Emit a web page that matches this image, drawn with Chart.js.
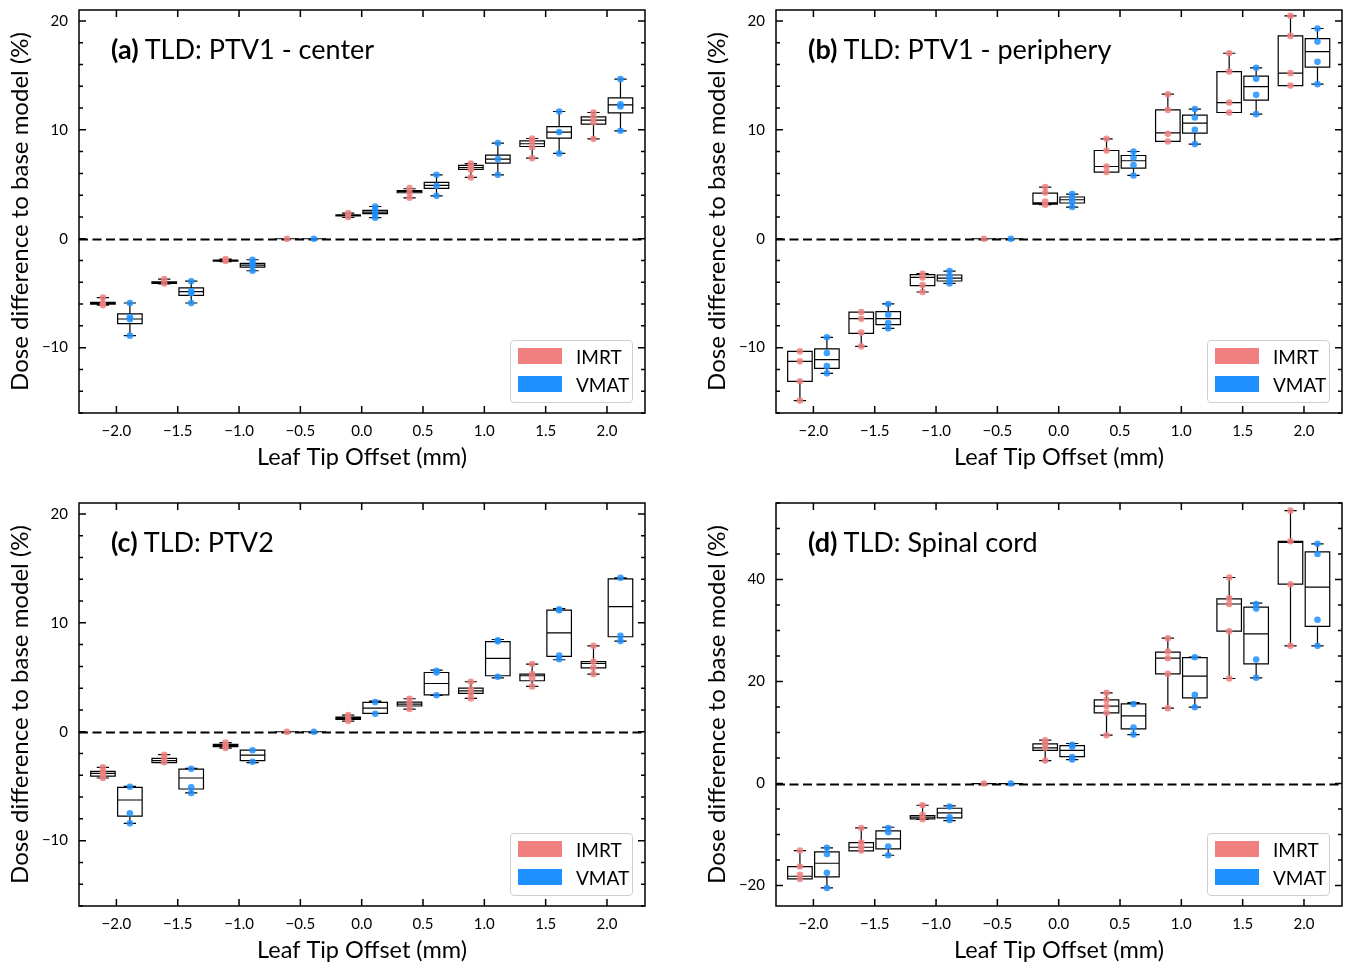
<!DOCTYPE html>
<html>
<head>
<meta charset="utf-8">
<script src="https://cdn.jsdelivr.net/npm/chart.js@4.4.1/dist/chart.umd.min.js"></script>
<style>
  body { margin: 0; background: #fff; font-family: Lato, sans-serif; }
  .panel { position: absolute; width: 674px; height: 482px; }
  .panel canvas { position: absolute; left: 0; top: 0; }
  .tag { position: absolute; left: 111px; top: 35px; font-size: 27px; line-height: 1; color: #000; white-space: nowrap; }
  .tag b { font-weight: 700; }
  .legend { position: absolute; left: 510px; top: 340px; width: 121px; height: 61px;
            border: 1.5px solid #d0d0d0; border-radius: 4px; background: rgba(255,255,255,0.85); }
  .legend .sw { position: absolute; left: 7px; width: 44px; height: 16px; }
  .legend .lb { position: absolute; left: 65px; font-size: 19px; line-height: 1; color: #000; }
</style>
</head>
<body>
<script>
// leaf tip offsets (mm) and x tick labels
const offsets = [-2.0, -1.5, -1.0, -0.5, 0.0, 0.5, 1.0, 1.5, 2.0];
const xTicks = [-2.0, -1.5, -1.0, -0.5, 0.0, 0.5, 1.0, 1.5, 2.0];
const yTicksPtv = [-10, 0, 10, 20];
const yTicksCord = [-20, 0, 20, 40];

// box stats per offset: [low whisker, q1, median, q3, high whisker]
// (a) PTV1 - center
const aImrtBox = [[-6.1, -6.0, -5.9, -5.85, -5.4], [-4.15, -4.1, -4.05, -3.95, -3.7], [-2.1, -2.05, -2.0, -1.97, -1.87],
  [0, 0, 0, 0, 0], [1.95, 2.1, 2.15, 2.2, 2.35], [3.76, 4.22, 4.34, 4.43, 4.59], [5.63, 6.36, 6.54, 6.73, 6.9],
  [7.4, 8.47, 8.72, 8.99, 9.2], [9.17, 10.52, 10.89, 11.19, 11.59]];
const aImrtPts = [[-5.4, -5.9, -6.1], [-3.7, -4.1], [-1.87, -2.05], [0], [2.35, 1.99], [4.65, 4.25, 3.76],
  [6.91, 6.57, 6.33, 5.63], [9.2, 8.93, 8.41, 7.4], [11.59, 11.16, 10.7, 9.17]];
const aVmatBox = [[-8.9, -7.8, -7.37, -6.9, -5.9], [-5.9, -5.2, -4.86, -4.52, -3.9], [-2.94, -2.6, -2.42, -2.26, -1.93],
  [0, 0, 0, 0, 0], [1.93, 2.3, 2.45, 2.6, 2.96], [3.94, 4.62, 4.89, 5.17, 5.87], [5.87, 6.94, 7.31, 7.68, 8.78],
  [7.83, 9.24, 9.79, 10.3, 11.68], [9.91, 11.56, 12.29, 12.94, 14.65]];
const aVmatPts = [[-5.9, -7.2, -7.4, -8.9], [-3.9, -4.8, -5.0, -5.9], [-1.93, -2.23, -2.48, -2.94], [0],
  [2.96, 2.6, 2.29, 1.93], [5.87, 4.86, 3.94], [8.78, 7.31, 5.87], [11.68, 9.79, 7.83], [14.65, 12.35, 12.14, 9.91]];

// (b) PTV1 - periphery
const bImrtBox = [[-14.86, -13.09, -11.26, -10.34, -10.34], [-9.88, -8.69, -7.34, -6.73, -6.73], [-4.89, -4.31, -3.55, -3.3, -3.21],
  [0, 0, 0, 0, 0], [3.12, 3.18, 3.3, 4.19, 4.74], [6.12, 6.12, 6.63, 8.1, 9.17], [8.93, 8.93, 9.72, 11.83, 13.27],
  [11.59, 11.59, 12.5, 15.35, 17.03], [14.06, 14.06, 15.2, 18.62, 20.46]];
const bImrtPts = [[-10.34, -11.26, -13.09, -14.86], [-6.73, -7.34, -8.62, -9.88], [-3.21, -3.55, -4.25, -4.89], [0],
  [4.74, 4.25, 3.42, 3.12], [9.17, 8.1, 6.63, 6.12], [13.27, 11.83, 9.63, 8.93], [17.03, 15.35, 12.5, 11.59],
  [20.46, 18.62, 15.2, 14.06]];
const bVmatBox = [[-12.36, -11.9, -11.1, -10.12, -9.05], [-8.23, -7.89, -7.34, -6.7, -5.99], [-4.1, -3.88, -3.61, -3.33, -2.97],
  [0, 0, 0, 0, 0], [2.91, 3.28, 3.58, 3.83, 4.1], [5.81, 6.48, 7.16, 7.64, 8.01], [8.69, 9.69, 10.61, 11.34, 11.9],
  [11.44, 12.72, 13.97, 14.93, 15.69], [14.19, 15.75, 17.18, 18.38, 19.3]];
const bVmatPts = [[-9.05, -10.49, -11.7, -12.36], [-5.99, -6.97, -7.74, -8.23], [-2.97, -3.45, -3.76, -4.1], [0],
  [4.1, 3.73, 3.42, 2.91], [8.01, 7.46, 6.76, 5.81], [11.9, 11.13, 10.0, 8.69], [15.69, 14.68, 13.21, 11.44],
  [19.3, 18.1, 16.24, 14.19]];

// (c) PTV2
const cImrtBox = [[-4.25, -4.07, -3.82, -3.64, -3.27], [-2.85, -2.84, -2.66, -2.45, -2.11], [-1.5, -1.38, -1.28, -1.16, -1.0],
  [0, 0, 0, 0, 0], [0.98, 1.13, 1.22, 1.35, 1.53], [2.08, 2.36, 2.54, 2.72, 3.03], [3.06, 3.52, 3.76, 4.01, 4.59],
  [4.16, 4.68, 5.14, 5.29, 6.21], [5.29, 5.87, 6.27, 6.45, 7.89]];
const cImrtPts = [[-3.27, -3.64, -3.9, -4.25], [-2.11, -2.45, -2.8], [-1.0, -1.28, -1.5], [0], [1.53, 1.22, 0.98],
  [3.03, 2.6, 2.08], [4.59, 3.9, 3.52, 3.06], [6.21, 5.29, 4.9, 4.16], [7.89, 6.45, 5.9, 5.29]];
const cVmatBox = [[-8.41, -7.74, -6.27, -5.11, -5.02], [-5.62, -5.26, -4.25, -3.43, -3.36], [-2.84, -2.66, -2.14, -1.68, -1.68],
  [0, 0, 0, 0, 0], [1.68, 1.68, 2.17, 2.69, 2.81], [3.33, 3.39, 4.43, 5.44, 5.66], [4.95, 5.14, 6.73, 8.28, 8.47],
  [6.61, 6.91, 9.08, 11.17, 11.31], [8.32, 8.72, 11.49, 14.04, 14.13]];
const cVmatPts = [[-5.05, -7.5, -8.41], [-3.4, -5.1, -5.62], [-1.7, -2.75], [0], [2.72, 1.65], [5.6, 5.44, 3.35],
  [8.4, 8.3, 5.05], [11.25, 11.15, 7.0, 6.65], [14.13, 8.8, 8.32]];

// (d) Spinal cord
const dImrtBox = [[-18.7, -18.7, -18.17, -16.27, -13.14], [-13.2, -13.2, -12.48, -11.57, -8.7], [-7.0, -6.93, -6.6, -6.27, -4.25],
  [0, 0, 0, 0, 0], [4.5, 6.5, 7.0, 7.8, 8.5], [9.48, 13.86, 15.2, 16.4, 17.78], [14.77, 21.5, 24.58, 25.76, 28.5],
  [20.6, 29.87, 35.2, 36.2, 40.4], [27.0, 39.08, 47.3, 47.5, 53.5]];
const dImrtPts = [[-13.14, -16.27, -17.9, -18.7], [-8.7, -11.57, -12.3, -13.1], [-4.25, -6.1, -7.0], [0],
  [8.5, 7.8, 7.0, 4.5], [17.78, 16.4, 15.2, 13.9, 9.48], [28.5, 25.9, 24.58, 21.5, 14.77],
  [40.4, 36.3, 35.2, 29.87, 20.6], [53.5, 47.5, 39.08, 27.0]];
const dVmatBox = [[-20.46, -18.3, -15.62, -13.4, -12.6], [-14.05, -12.81, -10.85, -9.28, -8.56], [-7.25, -6.73, -5.75, -4.84, -4.38],
  [0, 0, 0, 0, 0], [4.7, 5.3, 6.5, 7.45, 7.85], [9.6, 10.72, 13.27, 15.62, 15.88], [14.97, 16.8, 21.05, 24.7, 24.77],
  [20.73, 23.46, 29.35, 34.6, 35.36], [27.0, 30.8, 38.5, 45.4, 47.0]];
const dVmatPts = [[-12.6, -13.8, -17.5, -20.46], [-8.7, -9.54, -12.35, -14.05], [-4.51, -6.6, -7.12], [0],
  [7.6, 7.2, 5.2, 4.7], [15.6, 11.0, 9.6], [24.77, 17.39, 14.97], [35.2, 34.3, 24.3, 20.73], [47.0, 45.0, 32.1, 27.0]];

const imrtColor = '#f08080';
const vmatColor = '#1e90ff';
const boxWidth = 0.2;
const shift = 0.11;

Chart.defaults.font.family = 'Lato, sans-serif';
Chart.defaults.color = '#000';

const fmt = (v, d) => (v < 0 ? '\u2212' : '') + Math.abs(v).toFixed(d);

// box/whisker drawing, zero line, frame and inward ticks
const boxPlugin = {
  id: 'boxes',
  beforeDatasetsDraw(chart, args, opts) {
    const { ctx, chartArea: area, scales: { x, y } } = chart;
    ctx.save();
    ctx.beginPath();
    ctx.rect(area.left, area.top, area.right - area.left, area.bottom - area.top);
    ctx.clip();
    ctx.strokeStyle = '#000';
    ctx.lineWidth = 1.8;
    ctx.setLineDash([9, 4.5]);
    const y0 = Math.round(y.getPixelForValue(0)) + 0.5;
    ctx.beginPath();
    ctx.moveTo(area.left, y0);
    ctx.lineTo(area.right, y0);
    ctx.stroke();
    ctx.setLineDash([]);
    ctx.lineWidth = 1.2;
    opts.groups.forEach(g => {
      offsets.forEach((pos, i) => {
        const [lo, q1, med, q3, hi] = g.stats[i];
        const c = pos + g.shift;
        const px = v => x.getPixelForValue(v);
        const py = v => y.getPixelForValue(v);
        const xl = px(c - boxWidth / 2), xr = px(c + boxWidth / 2), xc = px(c);
        const cl = px(c - boxWidth / 4), cr = px(c + boxWidth / 4);
        ctx.beginPath();
        ctx.rect(xl, py(q3), xr - xl, py(q1) - py(q3));
        ctx.moveTo(xl, py(med)); ctx.lineTo(xr, py(med));
        ctx.moveTo(xc, py(q1)); ctx.lineTo(xc, py(lo));
        ctx.moveTo(xc, py(q3)); ctx.lineTo(xc, py(hi));
        ctx.moveTo(cl, py(lo)); ctx.lineTo(cr, py(lo));
        ctx.moveTo(cl, py(hi)); ctx.lineTo(cr, py(hi));
        ctx.stroke();
      });
    });
    ctx.restore();
  },
  afterDraw(chart, args, opts) {
    const { ctx, chartArea: area, scales: { x, y } } = chart;
    ctx.save();
    ctx.strokeStyle = '#000';
    ctx.lineWidth = 1.5;
    ctx.beginPath();
    x.ticks.forEach(t => {
      const p = x.getPixelForValue(t.value);
      ctx.moveTo(p, area.bottom); ctx.lineTo(p, area.bottom - 7);
      ctx.moveTo(p, area.top); ctx.lineTo(p, area.top + 7);
    });
    y.ticks.forEach(t => {
      const p = y.getPixelForValue(t.value);
      ctx.moveTo(area.left, p); ctx.lineTo(area.left + 7, p);
      ctx.moveTo(area.right, p); ctx.lineTo(area.right - 7, p);
    });
    const step = opts.minorStep;
    for (let v = Math.ceil(y.min / step) * step; v <= y.max; v += step) {
      const p = y.getPixelForValue(v);
      ctx.moveTo(area.left, p); ctx.lineTo(area.left + 4, p);
      ctx.moveTo(area.right, p); ctx.lineTo(area.right - 4, p);
    }
    ctx.stroke();
    ctx.lineWidth = 1.5;
    ctx.strokeRect(area.left, area.top, area.right - area.left, area.bottom - area.top);
    ctx.restore();
  }
};

const pointsFor = (pts, dx) => offsets.flatMap((pos, i) => pts[i].map(v => ({ x: pos + dx, y: v })));

function makePanel(p) {
  const wrap = document.createElement('div');
  wrap.className = 'panel';
  wrap.style.left = p.left + 'px';
  wrap.style.top = p.top + 'px';
  const canvas = document.createElement('canvas');
  canvas.width = 674;
  canvas.height = 482;
  wrap.appendChild(canvas);

  const tag = document.createElement('div');
  tag.className = 'tag';
  tag.innerHTML = '<b>' + p.letter + '</b> ' + p.title;
  wrap.appendChild(tag);

  const legend = document.createElement('div');
  legend.className = 'legend';
  legend.innerHTML =
    '<div class="sw" style="top:7px;background:' + imrtColor + '"></div><div class="lb" style="top:6px">IMRT</div>' +
    '<div class="sw" style="top:35px;background:' + vmatColor + '"></div><div class="lb" style="top:34px">VMAT</div>';
  wrap.appendChild(legend);
  document.body.appendChild(wrap);

  new Chart(canvas, {
    type: 'scatter',
    data: {
      datasets: [
        { label: 'IMRT', data: pointsFor(p.imrtPts, -shift), backgroundColor: 'rgba(240,128,128,0.85)',
          pointRadius: 3.3, borderWidth: 0 },
        { label: 'VMAT', data: pointsFor(p.vmatPts, shift), backgroundColor: 'rgba(30,144,255,0.85)',
          pointRadius: 3.3, borderWidth: 0 }
      ]
    },
    options: {
      responsive: false,
      animation: false,
      layout: { padding: { top: 10, right: 29, left: 0, bottom: 0 } },
      plugins: {
        legend: { display: false },
        tooltip: { enabled: false },
        boxes: {
          minorStep: p.minorStep,
          groups: [{ stats: p.imrtBox, shift: -shift }, { stats: p.vmatBox, shift: shift }]
        }
      },
      scales: {
        x: {
          type: 'linear', min: -2.305, max: 2.31,
          afterBuildTicks: s => { s.ticks = xTicks.map(v => ({ value: v })); },
          afterFit: s => { s.height = 69; s.paddingLeft = 0; s.paddingRight = 0; },
          grid: { display: false, drawTicks: false },
          border: { display: false },
          ticks: { font: { size: 15 }, color: '#000', padding: 9, autoSkip: false, maxRotation: 0,
                   callback: v => fmt(v, 1) },
          title: { display: true, text: 'Leaf Tip Offset (mm)', font: { size: 23.5 }, color: '#000',
                   padding: { top: 0, bottom: 10 } }
        },
        y: {
          type: 'linear', min: p.yMin, max: p.yMax,
          afterBuildTicks: s => { s.ticks = p.yTicks.map(v => ({ value: v })); },
          afterFit: s => { s.width = 79; s.paddingTop = 0; s.paddingBottom = 0; },
          grid: { display: false, drawTicks: false },
          border: { display: false },
          ticks: { font: { size: 15 }, color: '#000', padding: 11, callback: v => fmt(v, 0) },
          title: { display: true, text: 'Dose difference to base model (%)', font: { size: 24 }, color: '#000',
                   padding: { top: 6, bottom: 0 } }
        }
      }
    },
    plugins: [boxPlugin]
  });
}

makePanel({ left: 0, top: 0, letter: '(a)', title: 'TLD: PTV1 - center', imrtBox: aImrtBox, imrtPts: aImrtPts,
  vmatBox: aVmatBox, vmatPts: aVmatPts, yMin: -16, yMax: 21, yTicks: yTicksPtv, minorStep: 2 });
makePanel({ left: 697, top: 0, letter: '(b)', title: 'TLD: PTV1 - periphery', imrtBox: bImrtBox, imrtPts: bImrtPts,
  vmatBox: bVmatBox, vmatPts: bVmatPts, yMin: -16, yMax: 21, yTicks: yTicksPtv, minorStep: 2 });
makePanel({ left: 0, top: 493, letter: '(c)', title: 'TLD: PTV2', imrtBox: cImrtBox, imrtPts: cImrtPts,
  vmatBox: cVmatBox, vmatPts: cVmatPts, yMin: -16, yMax: 21, yTicks: yTicksPtv, minorStep: 2 });
makePanel({ left: 697, top: 493, letter: '(d)', title: 'TLD: Spinal cord', imrtBox: dImrtBox, imrtPts: dImrtPts,
  vmatBox: dVmatBox, vmatPts: dVmatPts, yMin: -24, yMax: 55, yTicks: yTicksCord, minorStep: 5 });
</script>
</body>
</html>
